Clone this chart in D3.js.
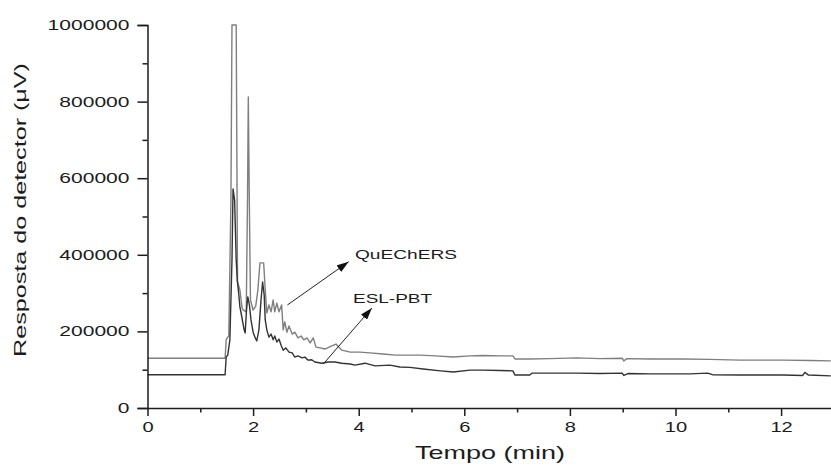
<!DOCTYPE html>
<html>
<head>
<meta charset="utf-8">
<script src="https://d3js.org/d3.v7.min.js"></script>
<style>
  body { margin: 0; background: #fff; }
  svg { display: block; font-family: "Liberation Sans", Arial, sans-serif; }
  .axis path, .axis line { stroke: #1c1c1c; stroke-width: 1.5; }
  .axis text { fill: #1c1c1c; }
</style>
</head>
<body>
<script>
// retention time (min) and detector response (uV)
const quechersTime = [0, 1.47, 1.49, 1.51, 1.54, 1.58, 1.60, 1.68, 1.705, 1.75, 1.79, 1.81, 1.87, 1.894, 1.909, 1.93, 1.95, 2.0, 2.05, 2.09, 2.13, 2.20, 2.23, 2.26, 2.30, 2.34, 2.38, 2.41, 2.45, 2.49, 2.54, 2.57, 2.60, 2.64, 2.68, 2.74, 2.79, 2.85, 2.91, 2.96, 3.02, 3.08, 3.14, 3.19, 3.27, 3.36, 3.46, 3.57, 3.68, 3.84, 4.02, 4.21, 4.46, 4.69, 4.97, 5.16, 5.45, 5.79, 6.11, 6.35, 6.68, 6.92, 6.96, 7.24, 7.62, 8.13, 8.57, 8.99, 9.02, 9.08, 9.52, 10.14, 10.65, 11.22, 12.04, 12.55, 12.94]
const quechersResp = [130000, 130000, 178000, 183000, 188000, 543000, 1000000, 1000000, 329000, 308000, 262000, 256000, 251000, 543000, 812000, 520000, 282000, 256000, 266000, 308000, 379000, 379000, 308000, 248000, 269000, 251000, 282000, 251000, 274000, 251000, 269000, 204000, 225000, 198000, 214000, 193000, 198000, 183000, 188000, 178000, 183000, 170000, 183000, 159000, 157000, 154000, 160000, 167000, 151000, 146000, 146000, 144000, 141000, 138000, 138000, 138000, 136000, 133000, 136000, 137000, 136000, 136000, 128000, 128000, 129000, 131000, 129000, 130000, 123000, 129000, 128000, 128000, 127000, 125000, 125000, 124000, 123000]

const eslTime = [0, 1.47, 1.49, 1.52, 1.56, 1.60, 1.62, 1.65, 1.68, 1.70, 1.73, 1.75, 1.79, 1.83, 1.85, 1.875, 1.90, 1.93, 1.96, 2.0, 2.04, 2.07, 2.11, 2.15, 2.18, 2.21, 2.23, 2.26, 2.30, 2.34, 2.38, 2.41, 2.45, 2.49, 2.53, 2.57, 2.62, 2.68, 2.74, 2.79, 2.85, 2.93, 2.98, 3.04, 3.11, 3.17, 3.30, 3.42, 3.55, 3.68, 3.84, 3.93, 4.12, 4.31, 4.59, 4.78, 4.97, 5.22, 5.55, 5.79, 6.11, 6.35, 6.68, 6.92, 6.96, 7.24, 7.28, 7.81, 8.13, 8.57, 8.99, 9.02, 9.10, 9.52, 9.84, 10.27, 10.61, 10.70, 11.22, 12.04, 12.41, 12.45, 12.52, 12.94]
const eslResp = [87000, 87000, 133000, 138000, 178000, 386000, 572000, 543000, 386000, 334000, 295000, 264000, 235000, 204000, 196000, 256000, 290000, 269000, 230000, 198000, 183000, 175000, 204000, 282000, 329000, 295000, 230000, 204000, 185000, 193000, 178000, 188000, 172000, 180000, 164000, 151000, 157000, 146000, 144000, 133000, 136000, 131000, 133000, 125000, 126000, 120000, 117000, 120000, 120000, 117000, 115000, 112000, 117000, 110000, 112000, 107000, 106000, 102000, 97000, 94000, 99000, 99000, 98000, 97000, 86000, 86000, 91000, 91000, 91000, 90000, 91000, 85000, 90000, 89000, 89000, 89000, 91000, 87000, 86000, 86000, 85000, 93000, 86000, 84000]

const yMajor = [0, 200000, 400000, 600000, 800000, 1000000]
const yMinor = [100000, 300000, 500000, 700000, 900000]
const xMajor = [0, 2, 4, 6, 8, 10, 12]
const xMinor = [1, 3, 5, 7, 9, 11]

const W = 831, H = 466
const svg = d3.select('body').append('svg').attr('width', W).attr('height', H)

const x = d3.scaleLinear().domain([0, 13]).range([147.5, 147.5 + 13 * 52.8])
const y = d3.scaleLinear().domain([0, 1000000]).range([408, 25])

svg.append('defs').append('marker')
  .attr('id', 'head')
  .attr('markerUnits', 'userSpaceOnUse')
  .attr('viewBox', '0 0 12 8')
  .attr('refX', 12).attr('refY', 4)
  .attr('markerWidth', 12).attr('markerHeight', 8)
  .attr('orient', 'auto')
  .append('path').attr('d', 'M0,0L12,4L0,8Z').attr('fill', '#111')

const line = d3.line().x(d => x(d[0])).y(d => y(d[1]))

// series
svg.append('path')
  .datum(quechersTime.map((t, i) => [t, quechersResp[i]]))
  .attr('d', line).attr('fill', 'none')
  .attr('stroke', '#7f7f7f').attr('stroke-width', 1.4).attr('stroke-linejoin', 'round')
svg.append('path')
  .datum(eslTime.map((t, i) => [t, eslResp[i]]))
  .attr('d', line).attr('fill', 'none')
  .attr('stroke', '#333').attr('stroke-width', 1.4).attr('stroke-linejoin', 'round')

// axes
const stretch = (sel, perChar) => sel
  .attr('font-size', 14)
  .attr('textLength', d => String(d).length * perChar)
  .attr('lengthAdjust', 'spacingAndGlyphs')

const gy = svg.append('g').attr('class', 'axis').attr('transform', `translate(${x(0)},0)`)
gy.call(d3.axisLeft(y).tickValues(yMajor).tickSize(10).tickPadding(8).tickFormat(d3.format('d')))
gy.selectAll('text').call(stretch, 11.7).attr('font-family', '"Liberation Sans", Arial, sans-serif')
svg.append('g').attr('class', 'axis').attr('transform', `translate(${x(0)},0)`)
  .call(d3.axisLeft(y).tickValues(yMinor).tickSize(5).tickFormat(''))
  .select('.domain').remove()

const gx = svg.append('g').attr('class', 'axis').attr('transform', `translate(0,${y(0)})`)
gx.call(d3.axisBottom(x).tickValues(xMajor).tickSize(8).tickPadding(6).tickSizeOuter(0))
gx.selectAll('text').call(stretch, 11.2).attr('font-family', '"Liberation Sans", Arial, sans-serif')
svg.append('g').attr('class', 'axis').attr('transform', `translate(0,${y(0)})`)
  .call(d3.axisBottom(x).tickValues(xMinor).tickSize(4.5).tickFormat(''))
  .select('.domain').remove()

// axis titles
svg.append('text')
  .attr('x', 490).attr('y', 459)
  .attr('text-anchor', 'middle').attr('font-size', 19).attr('fill', '#1c1c1c')
  .attr('textLength', 150).attr('lengthAdjust', 'spacingAndGlyphs')
  .text('Tempo (min)')
svg.append('text')
  .attr('transform', 'translate(26,210) rotate(-90)')
  .attr('text-anchor', 'middle').attr('font-size', 17).attr('fill', '#1c1c1c')
  .attr('textLength', 294).attr('lengthAdjust', 'spacingAndGlyphs')
  .text('Resposta do detector (μV)')

// annotations
const notes = [
  { label: 'QuEChERS', from: [2.65, 269000], to: [3.81, 382000], at: [355, 259], len: 102 },
  { label: 'ESL-PBT', from: [3.33, 115000], to: [4.25, 261000], at: [353, 302.5], len: 79 }
]
notes.forEach(n => {
  svg.append('line')
    .attr('x1', x(n.from[0])).attr('y1', y(n.from[1]))
    .attr('x2', x(n.to[0])).attr('y2', y(n.to[1]))
    .attr('stroke', '#222').attr('stroke-width', 1)
    .attr('marker-end', 'url(#head)')
  svg.append('text')
    .attr('x', n.at[0]).attr('y', n.at[1])
    .attr('font-size', 13).attr('fill', '#1c1c1c')
    .attr('textLength', n.len).attr('lengthAdjust', 'spacingAndGlyphs')
    .text(n.label)
})
</script>
</body>
</html>
